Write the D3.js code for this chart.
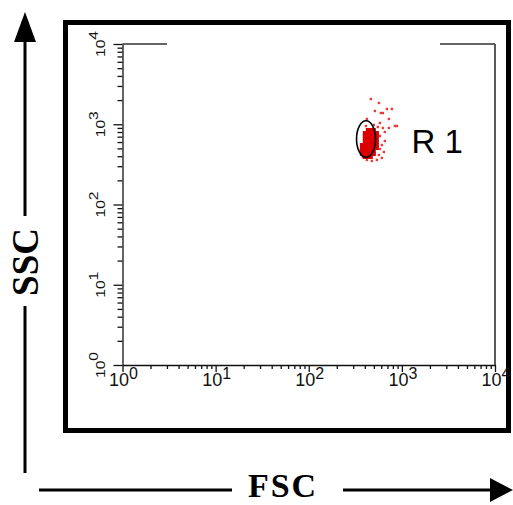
<!DOCTYPE html>
<html>
<head>
<meta charset="utf-8">
<script src="https://d3js.org/d3.v7.min.js"></script>
<style>
  body { margin: 0; background: #fff; }
</style>
</head>
<body>
<script>

  // log decades shown on both axes (10^0 .. 10^4)
  var decades = [0, 1, 2, 3, 4];

  // elliptical gate R1, bounds in channel units
  var gate = { name: "R 1", fscMin: 326, fscMax: 521, sscMin: 387, sscMax: 1107 };

  // dense core of the population [FSC, SSC]
  var coreEvents = [
    [431, 848], [464, 848], [500, 848],
    [400, 778], [431, 778], [464, 778], [500, 778], [539, 778],
    [400, 714], [431, 714], [464, 714], [500, 714], [539, 714],
    [400, 655], [431, 655], [464, 655], [500, 655], [539, 655],
    [400, 601], [431, 601], [464, 601], [500, 601], [539, 601],
    [372, 551], [400, 551], [431, 551], [464, 551], [500, 551], [539, 551],
    [372, 506], [400, 506], [431, 506], [464, 506], [500, 506], [539, 506],
    [372, 464], [400, 464], [431, 464], [464, 464], [500, 464],
    [372, 426], [400, 426], [431, 426], [464, 426], [500, 426],
    [400, 391], [431, 391], [464, 391]
  ];

  // scattered events around the core [FSC, SSC]
  var sparseEvents = [
    [464, 2063], [567, 1841], [690, 1549], [780, 1549], [513, 1462],
    [595, 1380], [625, 1380], [725, 1162], [421, 1162], [581, 1037],
    [840, 951], [883, 951], [625, 898], [725, 898], [656, 801],
    [581, 714], [656, 619], [610, 551], [581, 492], [641, 451],
    [567, 414], [610, 380], [539, 359], [476, 349], [421, 359],
    [363, 478], [381, 391], [411, 951], [500, 979], [552, 925]
  ];

  var w = 513;
  var h = 505;
  var plot = { left: 122.5, right: 495, top: 44, bottom: 365 };

  var svg = d3.select("body").append("svg")
      .attr("width", w)
      .attr("height", h);

  var x = d3.scaleLog().domain([1, 1e4]).range([plot.left, plot.right]);
  var y = d3.scaleLog().domain([1, 1e4]).range([plot.bottom, plot.top]);

  var majorTicks = decades.map(function(d) { return Math.pow(10, d); });
  var minorTicks = [];
  decades.slice(0, -1).forEach(function(d) {
    for (var k = 2; k <= 9; k++) minorTicks.push(k * Math.pow(10, d));
  });

  // outer thick frame
  svg.append("rect")
      .attr("x", 65.5).attr("y", 22.5)
      .attr("width", 443).attr("height", 408)
      .attr("fill", "none")
      .attr("stroke", "#000")
      .attr("stroke-width", 5);

  // x axis
  var xMinor = svg.append("g")
      .attr("transform", "translate(0," + plot.bottom + ")")
      .call(d3.axisBottom(x).tickValues(minorTicks).tickSize(4).tickSizeOuter(0).tickFormat(""));
  var xMajor = svg.append("g")
      .attr("transform", "translate(0," + plot.bottom + ")")
      .call(d3.axisBottom(x).tickValues(majorTicks).tickSize(7).tickSizeOuter(0).tickFormat(""));
  xMajor.select(".domain").remove();

  // y axis
  var yMinor = svg.append("g")
      .attr("transform", "translate(" + plot.left + ",0)")
      .call(d3.axisLeft(y).tickValues(minorTicks).tickSize(5).tickSizeOuter(0).tickFormat(""));
  var yMajor = svg.append("g")
      .attr("transform", "translate(" + plot.left + ",0)")
      .call(d3.axisLeft(y).tickValues(majorTicks).tickSize(9).tickSizeOuter(0).tickFormat(""));
  yMajor.select(".domain").remove();

  svg.selectAll(".domain, .tick line")
      .attr("stroke", "#111")
      .attr("stroke-width", 1.3);

  // right and top border of the plot (top one broken where the title sat)
  svg.append("line")
      .attr("x1", x(1e4)).attr("x2", x(1e4))
      .attr("y1", y(1e4)).attr("y2", y(1))
      .attr("stroke", "#222").attr("stroke-width", 1.5);
  [[x(1), 167], [440, x(1e4)]].forEach(function(seg) {
    svg.append("line")
        .attr("x1", seg[0]).attr("x2", seg[1])
        .attr("y1", y(1e4)).attr("y2", y(1e4))
        .attr("stroke", "#333").attr("stroke-width", 1.5);
  });

  // x tick labels 10^n
  var xl = svg.append("g")
      .attr("font-family", "Liberation Sans, Arial, sans-serif")
      .selectAll("text")
      .data(decades)
      .enter().append("text")
      .attr("x", function(d) { return x(Math.pow(10, d)) + 1; })
      .attr("y", 386)
      .attr("text-anchor", "middle")
      .attr("fill", "#111");
  xl.append("tspan").attr("font-size", 18).text("10");
  xl.append("tspan").attr("font-size", 16).attr("dy", -7).text(function(d) { return d; });

  // y tick labels, rotated
  var yl = svg.append("g")
      .attr("font-family", "Liberation Sans, Arial, sans-serif")
      .selectAll("text")
      .data(decades)
      .enter().append("text")
      .attr("transform", function(d) {
        return "translate(105," + y(Math.pow(10, d)) + ") rotate(-90) scale(1.25,1)";
      })
      .attr("text-anchor", "middle")
      .attr("fill", "#111");
  yl.append("tspan").attr("font-size", 12.5).text("10");
  yl.append("tspan").attr("font-size", 12.5).attr("dy", -7).text(function(d) { return d; });

  // events
  svg.append("g")
      .selectAll("rect")
      .data(sparseEvents)
      .enter().append("rect")
      .attr("x", function(d) { return x(d[0]) - 1.2; })
      .attr("y", function(d) { return y(d[1]) - 1.2; })
      .attr("width", 2.4).attr("height", 2.4)
      .attr("fill", "#ea3a3a");

  svg.append("g")
      .selectAll("rect")
      .data(coreEvents)
      .enter().append("rect")
      .attr("x", function(d) { return x(d[0]) - 2; })
      .attr("y", function(d) { return y(d[1]) - 2; })
      .attr("width", 4).attr("height", 4)
      .attr("fill", "#dd0000");

  // gate ellipse + label
  var gx0 = x(gate.fscMin), gx1 = x(gate.fscMax);
  var gy0 = y(gate.sscMax), gy1 = y(gate.sscMin);
  svg.append("ellipse")
      .attr("cx", (gx0 + gx1) / 2)
      .attr("cy", (gy0 + gy1) / 2)
      .attr("rx", (gx1 - gx0) / 2)
      .attr("ry", (gy1 - gy0) / 2)
      .attr("fill", "none")
      .attr("stroke", "#000")
      .attr("stroke-width", 1.6);

  svg.append("text")
      .attr("x", gx1 + 36)
      .attr("y", (gy0 + gy1) / 2 + 14)
      .attr("font-family", "Liberation Sans, Arial, sans-serif")
      .attr("font-size", 33)
      .attr("fill", "#000")
      .text(gate.name);

  // SSC arrow (vertical)
  var arrows = svg.append("g").attr("stroke", "#000").attr("stroke-width", 3);
  arrows.append("line").attr("x1", 25).attr("x2", 25).attr("y1", 40).attr("y2", 216);
  arrows.append("line").attr("x1", 25).attr("x2", 25).attr("y1", 306).attr("y2", 473);
  svg.append("path").attr("d", "M25,12L14,42L36,42Z").attr("fill", "#000");

  // FSC arrow (horizontal)
  arrows.append("line").attr("x1", 39).attr("x2", 232).attr("y1", 490).attr("y2", 490);
  arrows.append("line").attr("x1", 343).attr("x2", 492).attr("y1", 490).attr("y2", 490);
  svg.append("path").attr("d", "M513,490L490,478L490,502Z").attr("fill", "#000");

  svg.append("text")
      .attr("transform", "translate(38,262) rotate(-90)")
      .attr("text-anchor", "middle")
      .attr("font-family", "Liberation Serif, Times New Roman, serif")
      .attr("font-weight", "bold")
      .attr("font-size", 37)
      .text("SSC");

  svg.append("text")
      .attr("x", 283)
      .attr("y", 497)
      .attr("text-anchor", "middle")
      .attr("font-family", "Liberation Serif, Times New Roman, serif")
      .attr("font-weight", "bold")
      .attr("font-size", 34)
      .attr("letter-spacing", 2)
      .text("FSC");

</script>
</body>
</html>
